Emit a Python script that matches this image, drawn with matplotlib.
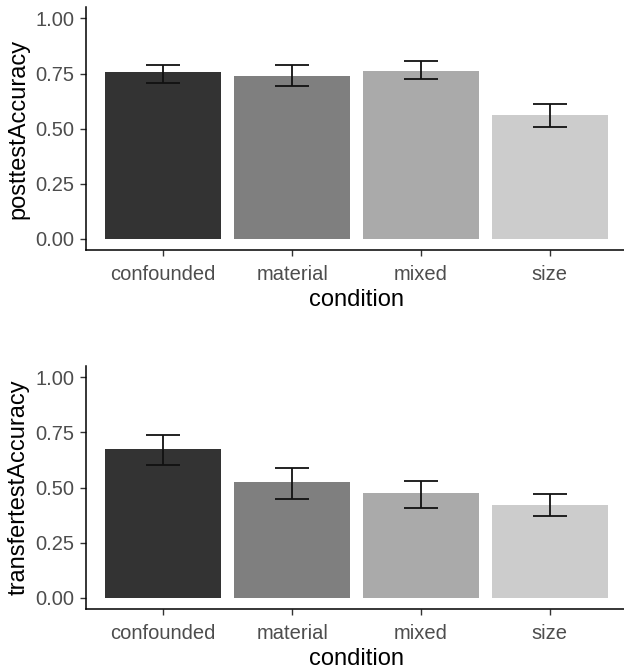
import numpy as np
import matplotlib
matplotlib.use("Agg")
import matplotlib.pyplot as plt

plt.rcParams['font.family'] = ['Liberation Sans', 'DejaVu Sans']

conditions = ["confounded", "material", "mixed", "size"]
bar_colors = ["#333333", "#7f7f7f", "#aaaaaa", "#cccccc"]

post_mean = [0.757, 0.740, 0.763, 0.560]
post_lo = [0.708, 0.692, 0.724, 0.506]
post_hi = [0.790, 0.790, 0.805, 0.610]

transfer_mean = [0.674, 0.524, 0.473, 0.420]
transfer_lo = [0.603, 0.447, 0.409, 0.373]
transfer_hi = [0.737, 0.589, 0.530, 0.470]

yticks = [0.0, 0.25, 0.5, 0.75, 1.0]
ytick_labels = ["0.00", "0.25", "0.50", "0.75", "1.00"]

fig = plt.figure(figsize=(6.24, 6.71), dpi=100)
ax1 = fig.add_axes([0.1378, 0.6274, 0.8672, 0.3617])
ax2 = fig.add_axes([0.1378, 0.0924, 0.8672, 0.3621])


def draw(ax, means, lo, hi, ylabel):
    x = np.arange(len(conditions))
    ax.bar(x, means, width=0.9, color=bar_colors, zorder=2)
    means = np.array(means)
    err = [means - np.array(lo), np.array(hi) - means]
    ax.errorbar(x, means, yerr=err, fmt="none", ecolor="#111111",
                elinewidth=1.3, capsize=12.5, capthick=1.3, zorder=3)
    ax.set_xlim(-0.6, 3.6)
    ax.set_ylim(-0.05, 1.05)
    ax.set_xticks(x)
    ax.set_xticklabels(conditions)
    ax.set_yticks(yticks)
    ax.set_yticklabels(ytick_labels)
    ax.tick_params(axis="both", length=4, width=1, color="#333333",
                   labelcolor="#4d4d4d", labelsize=14.5)
    ax.tick_params(axis="x", pad=6.5)
    ax.tick_params(axis="y", pad=4.5)
    for s in ["top", "right"]:
        ax.spines[s].set_visible(False)
    for s in ["left", "bottom"]:
        ax.spines[s].set_linewidth(1.1)
        ax.spines[s].set_color("black")
    ax.set_xlabel("condition", fontsize=17, labelpad=4)
    ax.set_ylabel(ylabel, fontsize=17, labelpad=4)


draw(ax1, post_mean, post_lo, post_hi, "posttestAccuracy")
draw(ax2, transfer_mean, transfer_lo, transfer_hi, "transfertestAccuracy")

fig.savefig("out.png", dpi=100)
